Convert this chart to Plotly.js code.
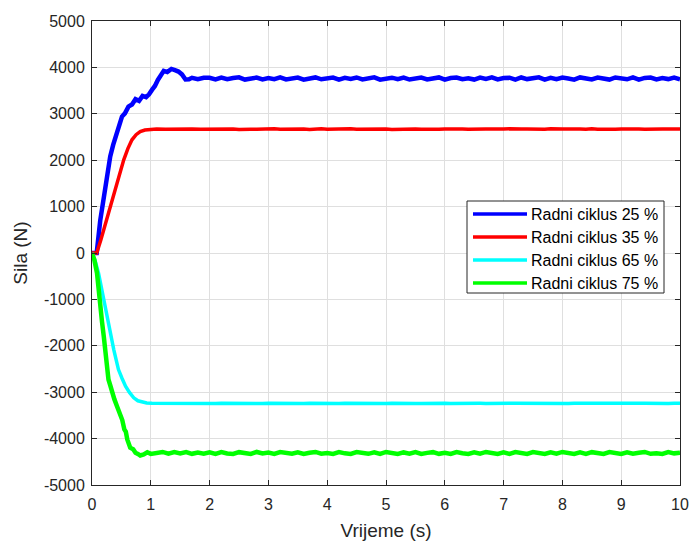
<!DOCTYPE html>
<html>
<head>
<meta charset="utf-8">
<script src="https://cdn.plot.ly/plotly-3.0.1.min.js"></script>
<style>html,body{margin:0;padding:0;background:#fff;}#chart{width:689px;height:543px;}</style>
</head>
<body>
<div id="chart"></div>
<script>
// ---- data ----
const seriesNames = ["Radni ciklus 25 %", "Radni ciklus 35 %", "Radni ciklus 65 %", "Radni ciklus 75 %"];

const tSteady = [2.0,2.1,2.2,2.3,2.4,2.5,2.6,2.7,2.8,2.9,3.0,3.1,3.2,3.3,3.4,3.5,3.6,3.7,3.8,3.9,
  4.0,4.1,4.2,4.3,4.4,4.5,4.6,4.7,4.8,4.9,5.0,5.1,5.2,5.3,5.4,5.5,5.6,5.7,5.8,5.9,
  6.0,6.1,6.2,6.3,6.4,6.5,6.6,6.7,6.8,6.9,7.0,7.1,7.2,7.3,7.4,7.5,7.6,7.7,7.8,7.9,
  8.0,8.1,8.2,8.3,8.4,8.5,8.6,8.7,8.8,8.9,9.0,9.1,9.2,9.3,9.4,9.5,9.6,9.7,9.8,9.9,10.0];

// Radni ciklus 25 %
const tBlueStart = [0,0.08,0.14,0.2,0.26,0.31,0.36,0.42,0.47,0.51,0.56,0.62,0.68,0.74,0.8,0.86,0.92,0.97,1.02,1.07,1.12,1.17,1.22,1.28,1.35,1.41,1.47,1.53,1.59,1.65,1.7,1.8,1.9];
const fBlueStart = [0,0,700,1220,1700,2080,2330,2580,2720,2940,3010,3155,3200,3315,3280,3385,3360,3420,3515,3600,3730,3850,3925,3900,3967,3940,3910,3850,3740,3745,3775,3745,3778];
const fBlueSteady = [3775,3740,3782,3745,3770,3785,3738,3762,3780,3742,
  3772,3748,3784,3740,3768,3780,3736,3765,3784,3744,
  3760,3781,3738,3774,3750,3783,3742,3768,3785,3737,
  3765,3778,3744,3782,3738,3770,3780,3740,3762,3784,
  3736,3772,3782,3745,3766,3738,3780,3752,3785,3740,
  3770,3778,3737,3783,3748,3765,3785,3738,3774,3744,
  3780,3760,3737,3784,3770,3740,3781,3752,3738,3783,
  3765,3744,3785,3737,3773,3780,3740,3769,3748,3782,
  3745];

// Radni ciklus 35 %
const tRedStart = [0,0.08,0.15,0.23,0.31,0.4,0.47,0.54,0.61,0.68,0.75,0.82,0.9,0.99,1.1,1.25,1.4,1.55,1.7,1.85];
const fRedStart = [0,0,280,645,1000,1362,1700,2008,2250,2440,2550,2617,2650,2668,2672,2667,2673,2668,2674,2667];
const fRedSteady = [2672,2665,2676,2668,2673,2664,2675,2669,2666,2674,
  2670,2676,2665,2671,2675,2667,2673,2664,2672,2676,
  2668,2674,2665,2670,2676,2667,2672,2665,2675,2669,
  2673,2664,2671,2676,2667,2674,2666,2672,2675,2668,
  2670,2676,2665,2673,2668,2675,2664,2671,2674,2667,
  2672,2676,2665,2670,2674,2667,2673,2665,2676,2669,
  2671,2675,2666,2673,2668,2676,2665,2672,2674,2667,
  2670,2675,2665,2673,2669,2676,2666,2672,2674,2668,
  2671];

// Radni ciklus 65 %
const tCyanStart = [0,0.05,0.11,0.16,0.2,0.24,0.28,0.33,0.37,0.41,0.45,0.51,0.57,0.64,0.71,0.78,0.85,0.93,1.02,1.2,1.4,1.6,1.8,1.9];
const fCyanStart = [0,-150,-430,-760,-1005,-1290,-1580,-1850,-2081,-2300,-2512,-2700,-2871,-3010,-3121,-3185,-3215,-3232,-3237,-3240,-3242,-3238,-3241,-3239];
const fCyanSteady = [-3240,-3243,-3238,-3241,-3244,-3239,-3242,-3237,-3241,-3243,
  -3239,-3242,-3238,-3244,-3240,-3237,-3242,-3239,-3243,-3240,
  -3238,-3241,-3244,-3239,-3242,-3237,-3241,-3243,-3239,-3240,
  -3242,-3238,-3243,-3240,-3237,-3241,-3244,-3239,-3242,-3238,
  -3240,-3243,-3239,-3241,-3238,-3244,-3240,-3242,-3237,-3241,
  -3243,-3239,-3240,-3242,-3238,-3244,-3241,-3239,-3242,-3237,
  -3240,-3243,-3238,-3241,-3244,-3239,-3242,-3240,-3237,-3241,
  -3243,-3239,-3242,-3238,-3240,-3244,-3241,-3239,-3242,-3238,
  -3240];

// Radni ciklus 75 %
const tGreenStart = [0,0.04,0.085,0.11,0.14,0.17,0.2,0.24,0.28,0.31,0.34,0.38,0.425,0.45,0.48,0.515,0.55,0.575,0.6,0.65,0.7,0.74,0.78,0.82,0.88,0.94,1.0,1.1,1.2,1.3,1.4,1.5,1.6,1.7,1.8,1.9];
const fGreenStart = [0,-150,-430,-800,-1150,-1480,-1795,-2250,-2727,-2850,-3013,-3150,-3302,-3380,-3517,-3600,-3803,-3850,-4018,-4197,-4230,-4305,-4330,-4363,-4340,-4295,-4330,-4300,-4288,-4325,-4292,-4318,-4290,-4328,-4300,-4326];
const fGreenSteady = [-4295,-4328,-4290,-4320,-4332,-4292,-4312,-4330,-4288,-4322,
  -4300,-4331,-4290,-4314,-4326,-4294,-4332,-4304,-4288,-4324,
  -4310,-4330,-4292,-4318,-4332,-4290,-4305,-4328,-4294,-4331,
  -4288,-4318,-4330,-4298,-4324,-4290,-4332,-4308,-4292,-4328,
  -4304,-4331,-4290,-4314,-4330,-4295,-4324,-4288,-4318,-4332,
  -4298,-4328,-4292,-4310,-4331,-4290,-4318,-4330,-4294,-4324,
  -4288,-4314,-4332,-4298,-4328,-4292,-4308,-4330,-4290,-4318,
  -4332,-4294,-4324,-4304,-4288,-4328,-4314,-4331,-4292,-4318,
  -4305];

const xTickVals = [0,1,2,3,4,5,6,7,8,9,10];
const yTickVals = [-5000,-4000,-3000,-2000,-1000,0,1000,2000,3000,4000,5000];
const yTickText = ["-5000","-4000","-3000","-2000","-1000","0","1000","2000","3000","4000","5000"];

// ---- chart ----
const colors = ["#0000ff", "#ff0000", "#00ffff", "#00ff00"];
const widths = [4.5, 3.5, 3.5, 4.5];
const xs = [tBlueStart.concat(tSteady), tRedStart.concat(tSteady), tCyanStart.concat(tSteady), tGreenStart.concat(tSteady)];
const ys = [fBlueStart.concat(fBlueSteady), fRedStart.concat(fRedSteady), fCyanStart.concat(fCyanSteady), fGreenStart.concat(fGreenSteady)];

const traces = seriesNames.map((n, i) => ({
  type: "scatter", mode: "lines", name: n,
  x: xs[i], y: ys[i],
  line: {color: colors[i], width: widths[i]}
}));

const W = 689, H = 543;
const M = {l: 92, r: 9, t: 21, b: 58};
const plotW = W - M.l - M.r, plotH = H - M.t - M.b;
const px = x => (x - M.l) / plotW;
const py = y => (H - M.b - y) / plotH;

// legend box drawn as shapes + annotations (MATLAB-style)
const legBox = {x0: 467, x1: 664, y0: 201, y1: 293};
const legRowY0 = 214, legRowStep = 23;
const shapes = [{
  type: "rect", xref: "paper", yref: "paper",
  x0: px(legBox.x0), x1: px(legBox.x1), y0: py(legBox.y1), y1: py(legBox.y0),
  fillcolor: "#ffffff", line: {color: "#262626", width: 1}, layer: "above"
}];
const annotations = [];
const fontFam = "Liberation Sans, Arial, sans-serif";
seriesNames.forEach((n, i) => {
  const ry = legRowY0 + i * legRowStep;
  shapes.push({
    type: "line", xref: "paper", yref: "paper",
    x0: px(473), x1: px(527), y0: py(ry), y1: py(ry),
    line: {color: colors[i], width: 3.5}, layer: "above"
  });
  annotations.push({
    xref: "paper", yref: "paper", x: px(529), y: py(ry),
    xanchor: "left", yanchor: "middle", showarrow: false,
    text: n, font: {family: fontFam, size: 16, color: "#000000"}
  });
});

const axisCommon = {
  showline: true, linecolor: "#262626", linewidth: 1, mirror: "ticks",
  ticks: "inside", ticklen: 5, tickcolor: "#262626", tickwidth: 1,
  showgrid: true, gridcolor: "#dfdfdf", gridwidth: 1, zeroline: false,
  tickfont: {family: fontFam, size: 16, color: "#262626"}
};

const layout = {
  width: W, height: H,
  margin: M,
  paper_bgcolor: "#ffffff", plot_bgcolor: "#ffffff",
  font: {family: fontFam, color: "#262626"},
  showlegend: false,
  xaxis: Object.assign({}, axisCommon, {
    range: [0, 10], tickvals: xTickVals, ticklabelstandoff: 5,
    title: {text: "Vrijeme (s)", font: {family: fontFam, size: 19, color: "#262626"}, standoff: 11}
  }),
  yaxis: Object.assign({}, axisCommon, {
    range: [-5000, 5000], tickvals: yTickVals, ticktext: yTickText, ticklabelstandoff: 3,
    title: {text: "Sila (N)", font: {family: fontFam, size: 19, color: "#262626"}, standoff: 11}
  }),
  shapes: shapes,
  annotations: annotations
};

Plotly.newPlot("chart", traces, layout, {displayModeBar: false, staticPlot: true});
</script>
</body>
</html>
